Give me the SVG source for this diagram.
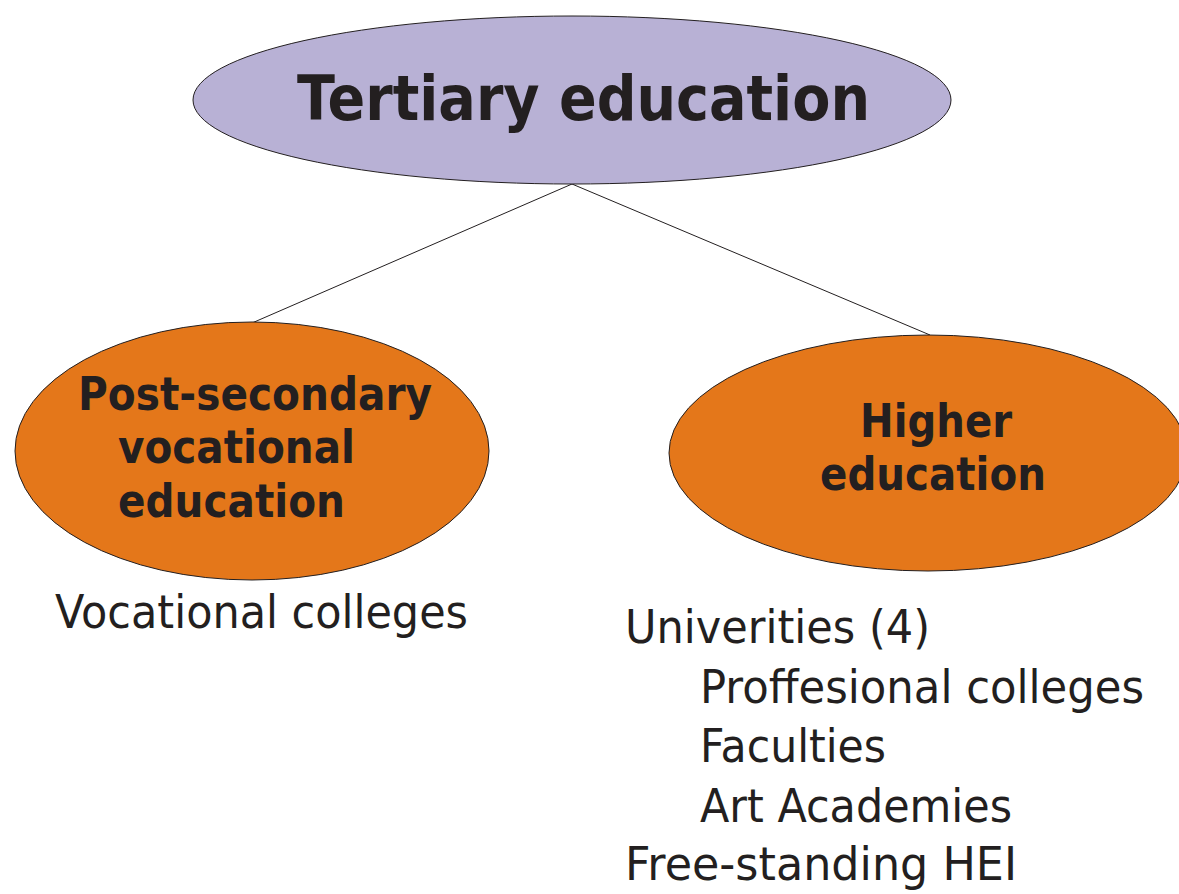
<svg xmlns="http://www.w3.org/2000/svg" width="1179" height="894" viewBox="0 0 1179 894">
<style>
.node{stroke:#231F20;stroke-width:1}
.top{fill:#B8B1D5}
.sub{fill:#E4771A}
.b{font-family:"DejaVu Sans","Liberation Sans",sans-serif;font-weight:bold;fill:#231F20}
.r{font-family:"DejaVu Sans","Liberation Sans",sans-serif;fill:#231F20;font-size:46px}
.conn{stroke:#231F20;stroke-width:1;fill:none}
</style>
<rect width="1179" height="894" fill="#FFFFFF"/>
<g id="connectors">
<line class="conn" x1="572" y1="184" x2="252" y2="323"/>
<line class="conn" x1="572" y1="184" x2="930" y2="335"/>
</g>
<g id="tertiary">
<ellipse class="node top" cx="572" cy="100" rx="379" ry="84"/>
<text class="b" x="297" y="120" font-size="62" textLength="573" lengthAdjust="spacingAndGlyphs">Tertiary education</text>
</g>
<g id="post-secondary">
<ellipse class="node sub" cx="252" cy="451" rx="237" ry="129"/>
<text class="b" x="78" y="410" font-size="46" textLength="354" lengthAdjust="spacingAndGlyphs">Post-secondary</text>
<text class="b" x="118" y="463" font-size="46" textLength="237" lengthAdjust="spacingAndGlyphs">vocational</text>
<text class="b" x="118" y="517" font-size="46" textLength="227" lengthAdjust="spacingAndGlyphs">education</text>
</g>
<g id="higher">
<ellipse class="node sub" cx="928" cy="453" rx="259" ry="118"/>
<text class="b" x="860" y="437" font-size="46" textLength="152" lengthAdjust="spacingAndGlyphs">Higher</text>
<text class="b" x="820" y="490" font-size="46" textLength="226" lengthAdjust="spacingAndGlyphs">education</text>
</g>
<g id="vocational-list">
<text class="r" x="55" y="628" textLength="413" lengthAdjust="spacingAndGlyphs">Vocational colleges</text>
</g>
<g id="higher-list">
<text class="r" x="625" y="643" textLength="305" lengthAdjust="spacingAndGlyphs">Univerities (4)</text>
<text class="r" x="700" y="703" textLength="444" lengthAdjust="spacingAndGlyphs">Proffesional colleges</text>
<text class="r" x="700" y="762" textLength="186" lengthAdjust="spacingAndGlyphs">Faculties</text>
<text class="r" x="700" y="822" textLength="312" lengthAdjust="spacingAndGlyphs">Art Academies</text>
<text class="r" x="625" y="880" textLength="392" lengthAdjust="spacingAndGlyphs">Free-standing HEI</text>
</g>
</svg>
